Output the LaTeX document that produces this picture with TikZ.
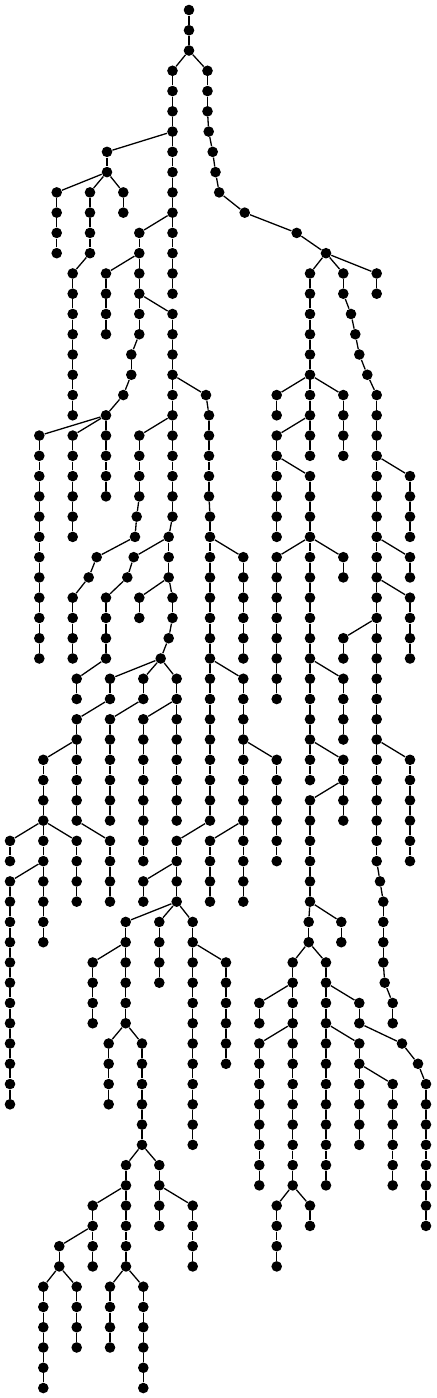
\documentclass[tikz,border=0pt]{standalone}
\usepackage{tikz}
\tikzstyle{dotvertex}=[circle,fill=black,draw=none,minimum size=5.3pt,inner sep=0pt]
\tikzstyle{treeedge}=[draw,line width=0.65pt]
\begin{document}
\begin{tikzpicture}[x=0.5pt,y=-0.5pt]

  \useasboundingbox (0,0) rectangle (436,1398);
  \def\dy{20.265}

  \node[dotvertex] (r0) at (189,10) {};

  % chain name / x / first level / last level / parent
  \foreach \name/\x/\startlev/\endlev/\parent in {
      r/189/1/2/r0, a/172.5/3/14/r2,
      b/207.5/3/5/r2, b/208.7/6/6/b5, b/212.7/7/7/b6, b/215.5/8/8/b7,
      b/219.2/9/9/b8, b/244.7/10/10/b9, b/296.7/11/11/b10, b/326/12/12/b11,
      c/107/7/8/a6, d/56.7/9/12/c8, e/90/9/12/c8, f/123.3/9/10/c8,
      g/72.7/13/20/e12,
      h/139.3/11/16/a10, h/131.3/17/18/h16, h/123.3/19/19/h18, h/106/20/24/h19,
      i/106/13/16/h12,
      j/172.5/15/25/h14, j/168.7/26/28/j25, j/172.5/29/30/j28,
      j/168.7/31/31/j30, j/160.7/32/32/j31,
      k/206/19/19/j18, k/209/20/24/k19, k/210/25/40/k24,
      l/39.3/21/32/h20, m/72.7/21/26/h20,
      n/139.3/21/24/j20, n/136.7/25/25/n24, n/135/26/26/n25,
      n/96.7/27/27/n26, n/88.7/28/28/n27, n/72.7/29/32/n28,
      o/133.7/27/27/j26, o/127.3/28/28/o27, o/106/29/32/o28, o/76.7/33/34/o32,
      p/139.3/29/30/j28,
      q/110/33/34/j32, q/76.7/35/40/q34,
      t/143.3/33/34/j32, t/110/35/40/t34,
      u/176.7/33/40/j32, v/143.3/35/42/u34,
      w/43.3/37/46/q36, wa/10/41/42/w40, y/76.7/41/44/w40,
      s/110/41/44/q40, z/10/43/54/w42,
      kc/243.3/27/32/k26, kd/243.3/33/44/k32,
      ke/276.7/37/42/kd36, kf/210/41/44/kd40,
      aa/176.7/41/44/k40, ab/143.3/43/44/aa42,
      ac/125.7/45/50/aa44, ad/92.7/47/50/ac46,
      ae/108.7/51/54/ac50, af/142/51/56/ac50,
      ag/159.3/45/48/aa44, ah/192.7/45/56/aa44, ai/226/47/52/ah46,
      aj/126/57/62/af56, ak/159.3/57/60/af56,
      al/92.7/59/62/aj58, am/59.3/61/62/al60,
      an/43.3/63/68/am62, ao/76.7/63/66/am62,
      ap/110/63/66/aj62, aq/143.3/63/68/aj62, ar/192.7/59/62/ak58,
      ba/310/13/22/b12,
      bb/343.3/13/14/b12, bb/351/15/15/bb14, bb/355.3/16/16/bb15,
      bb/359.3/17/17/bb16, bb/367.3/18/18/bb17, bb/376.7/19/42/bb18,
      bb/380/43/43/bb42, bb/383.3/44/47/bb43, bb/384.7/48/48/bb47,
      bb/392.7/49/50/bb48,
      bc/376.7/13/14/b12,
      bd/410/23/26/bb22, be/410/27/28/bb26, bf/410/29/32/bb28,
      bg/343.3/31/32/bb30, bh/410/37/42/bb36,
      bi/276.7/19/20/ba18, bj/343.3/19/22/ba18,
      bk/276.7/21/26/ba20, bl/310/23/38/bk22,
      bm/276.7/27/34/bl26, bn/343.3/27/28/bl26,
      bo/343.3/33/36/bl32, bp/343.3/37/40/bl36,
      bq/310/39/44/bp38, bq/308.7/45/46/bq44, br/341.3/45/46/bq44,
      bs/292.7/47/58/bq46, bt/326/47/58/bq46,
      bu/259.3/49/50/bs48, bv/259.3/51/58/bs50,
      bw/276.7/59/62/bs58, bx/310/59/60/bs58,
      by/359.3/49/50/bt48, bz/359.3/51/56/bt50,
      ca/402/51/51/by50, ca/418/52/52/ca51, ca/426/53/60/ca52,
      cb/392.7/53/58/bz52}
  {
    \foreach \lev in {\startlev,...,\endlev}
    {
      \node[dotvertex] (\name\lev) at (\x,{10+\dy*\lev}) {};
      \pgfmathtruncatemacro{\prev}{\lev-1}
      \ifnum\lev=\startlev
        \path[treeedge] (\parent) -- (\name\lev);
      \else
        \path[treeedge] (\name\prev) -- (\name\lev);
      \fi
    }
  }

\end{tikzpicture}
\end{document}
